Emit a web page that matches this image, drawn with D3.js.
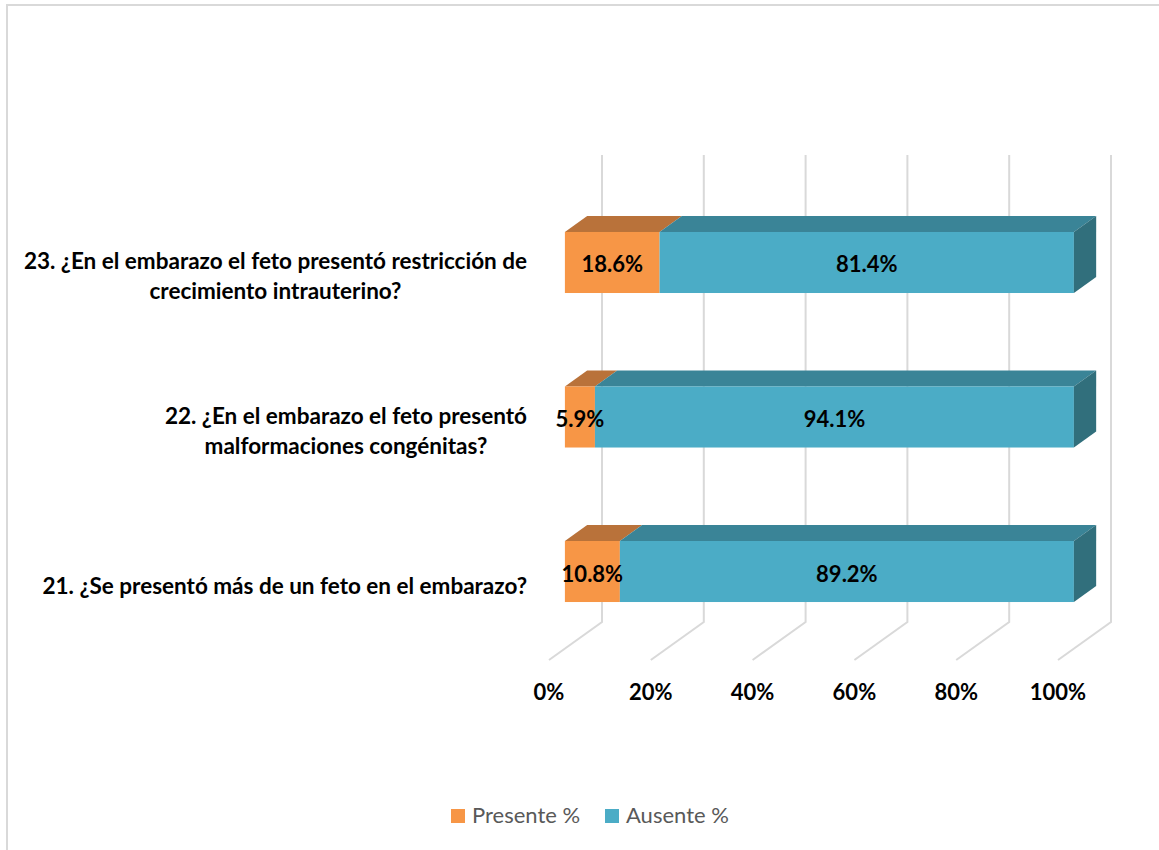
<!DOCTYPE html>
<html>
<head>
<meta charset="utf-8">
<script src="https://cdn.jsdelivr.net/npm/d3@7"></script>
<style>
  html, body { margin: 0; padding: 0; background: #fff; }
  svg { display: block; }
  text { font-family: Lato, "Open Sans", "Liberation Sans", sans-serif; }
</style>
</head>
<body>
<svg id="chart" width="1159" height="850"></svg>
<script>
// Questions, bottom to top as stacked in the chart
const categories = [
  ["21. ¿Se presentó más de un feto en el embarazo?"],
  ["22. ¿En el embarazo el feto presentó", "malformaciones congénitas?"],
  ["23. ¿En el embarazo el feto presentó restricción de", "crecimiento intrauterino?"]
];
const categoryKeys = ["21", "22", "23"];
const presente = [10.8, 5.9, 18.6];
const ausente = [89.2, 94.1, 81.4];
const seriesNames = ["Presente %", "Ausente %"];
const tickValues = [0, 20, 40, 60, 80, 100];

const svg = d3.select("#chart");

// outer chart frame
svg.append("rect")
  .attr("x", 7).attr("y", 5).attr("width", 1200).attr("height", 900)
  .attr("fill", "none").attr("stroke", "#d9d9d9").attr("stroke-width", 2);

// 3D projection: depth 0 = front edge of the floor, 1 = back wall
const depthDX = 53, depthDY = -38;
const x = d3.scaleLinear().domain([0, 100]).range([549, 1058]);
const floorY = 660;
const wallTop = 155;

// bar front faces (y is measured on the bar's front plane)
const y = d3.scaleBand()
  .domain(categoryKeys.slice().reverse())
  .range([138.5, 695.5])
  .paddingInner(0.605)
  .paddingOuter(0.605);

const barD0 = 0.3, barD1 = 0.72;

function px(v, d) { return x(v) + d * depthDX; }

// gridlines: back wall verticals + floor diagonals
const grid = svg.append("g");
tickValues.forEach(t => {
  grid.append("path")
    .attr("d", `M${px(t, 1)},${wallTop} L${px(t, 1)},${floorY + depthDY} L${px(t, 0)},${floorY}`)
    .attr("fill", "none")
    .attr("stroke", "#d9d9d9")
    .attr("stroke-width", 2);
});

// x tick labels
svg.append("g").selectAll("text")
  .data(tickValues)
  .join("text")
  .attr("x", d => x(d))
  .attr("y", 700)
  .attr("text-anchor", "middle")
  .attr("font-size", 22)
  .attr("font-weight", "bold")
  .attr("fill", "#000")
  .text(d => d + "%");

const colors = {
  front: ["#F79646", "#4BACC6"],
  top: ["#B9723A", "#3A8497"],
  side: ["#B05F22", "#316F7C"]
};

const bars = svg.append("g");
categoryKeys.forEach((key, i) => {
  const vals = [presente[i], ausente[i]];
  const yTop = y(key);
  const h = y.bandwidth();
  const dOff = (barD1 - barD0) * depthDX;
  const dy = (barD1 - barD0) * depthDY;
  let start = 0;
  vals.forEach((v, s) => {
    const x0 = px(start, barD0), x1 = px(start + v, barD0);
    // top face
    bars.append("path")
      .attr("d", `M${x0},${yTop} L${x0 + dOff},${yTop + dy} L${x1 + dOff},${yTop + dy} L${x1},${yTop} Z`)
      .attr("fill", colors.top[s]);
    // front face
    bars.append("rect")
      .attr("x", x0).attr("y", yTop)
      .attr("width", x1 - x0).attr("height", h)
      .attr("fill", colors.front[s]);
    // right side face of the last segment
    if (s === vals.length - 1) {
      bars.append("path")
        .attr("d", `M${x1},${yTop} L${x1 + dOff},${yTop + dy} L${x1 + dOff},${yTop + h + dy} L${x1},${yTop + h} Z`)
        .attr("fill", colors.side[s]);
    }
    start += v;
  });
  // value labels on top of all faces
  start = 0;
  vals.forEach(v => {
    const x0 = px(start, barD0), x1 = px(start + v, barD0);
    bars.append("text")
      .attr("x", (x0 + x1) / 2)
      .attr("y", yTop + h / 2 + 10)
      .attr("text-anchor", "middle")
      .attr("font-size", 22)
      .attr("font-weight", "bold")
      .attr("fill", "#000")
      .text(v.toFixed(1) + "%");
    start += v;
  });
});

// category labels, right-aligned block with centered lines
const labelRight = 527;
const lineH = 30;
categoryKeys.forEach((key, i) => {
  const lines = categories[i];
  const cy = y(key) + y.bandwidth() / 2 + 14;
  const g = svg.append("g");
  const texts = lines.map((ln, j) => g.append("text")
    .attr("y", cy + (j - (lines.length - 1) / 2) * lineH + 8)
    .attr("text-anchor", "middle")
    .attr("font-size", 22.5)
    .attr("font-weight", "bold")
    .attr("fill", "#000")
    .text(ln));
  const w = d3.max(texts, t => t.node().getComputedTextLength());
  texts.forEach(t => t.attr("x", labelRight - w / 2));
});

// legend
const legend = svg.append("g");
const legendX = [451, 605];
seriesNames.forEach((name, s) => {
  legend.append("rect")
    .attr("x", legendX[s]).attr("y", 809)
    .attr("width", 14).attr("height", 14)
    .attr("fill", colors.front[s]);
  legend.append("text")
    .attr("x", legendX[s] + 21).attr("y", 823)
    .attr("font-size", 22)
    .attr("fill", "#595959")
    .text(name);
});
</script>
</body>
</html>
